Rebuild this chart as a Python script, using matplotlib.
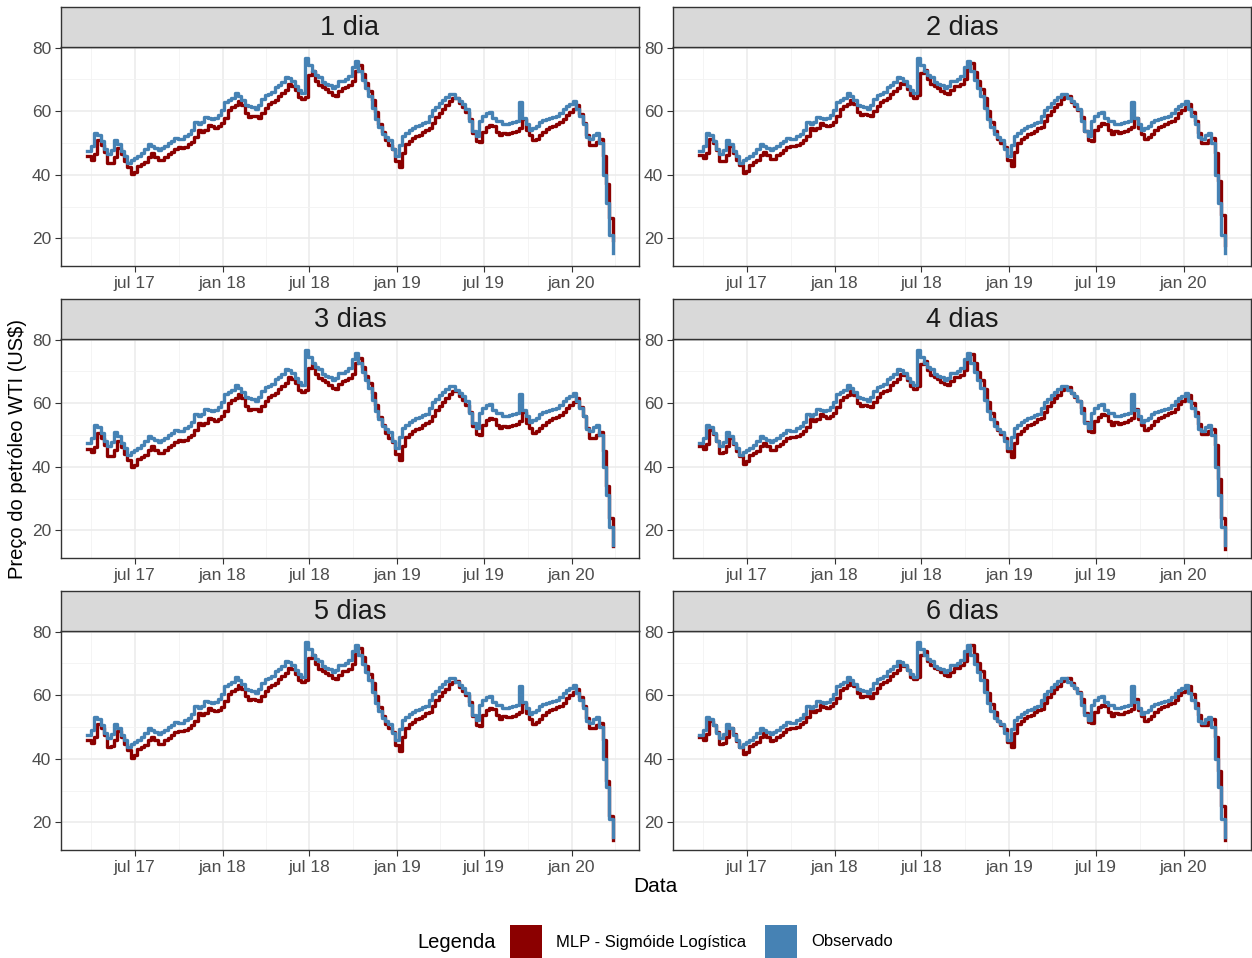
import matplotlib

matplotlib.use("Agg")
import matplotlib.pyplot as plt  # noqa: E402
from matplotlib.patches import Rectangle  # noqa: E402
import pandas as pd  # noqa: E402

# weekly WTI price (US$), starting 2017-03-24
START = "2017-03-24"
OBSERVADO = [
    47.4, 49.0, 53.2, 52.4, 50.5, 48.0, 46.5, 47.8, 51.0, 49.7,
    47.5, 46.0, 43.8, 44.5, 45.4, 46.0, 46.7, 48.0, 49.6, 49.0,
    48.3, 47.9, 48.5, 49.2, 50.0, 50.7, 51.6, 51.2, 51.4, 52.1,
    52.8, 54.0, 56.7, 56.0, 56.5, 58.3, 57.8, 57.4, 57.8, 58.7,
    60.5, 62.8, 63.6, 64.3, 65.6, 64.8, 63.5, 62.0, 61.6, 61.4,
    60.6, 62.0, 63.8, 65.0, 65.5, 66.0, 67.5, 68.4, 69.2, 70.9,
    70.6, 69.6, 67.8, 66.6, 65.8, 76.8, 74.5, 72.6, 71.5, 70.8,
    69.3, 68.7, 68.3, 67.2, 68.0, 69.5, 69.5, 70.0, 71.2, 74.0,
    75.8, 72.5, 69.7, 67.3, 64.8, 61.0, 57.5, 54.9, 52.7, 51.8,
    50.8, 48.0, 46.0, 49.5, 52.3, 53.1, 54.0, 54.8, 55.2, 55.8,
    56.4, 56.7, 58.5, 60.3, 61.4, 62.5, 63.5, 64.5, 65.4, 65.5,
    64.0, 63.2, 62.2, 60.8, 57.0, 53.7, 52.1, 57.0, 58.4, 59.3,
    59.6, 58.0, 57.0, 57.0, 56.0, 56.0, 56.3, 56.6, 57.0, 63.0,
    58.0, 56.0, 54.2, 54.6, 55.5, 56.5, 57.2, 57.6, 58.0, 58.3,
    58.6, 59.3, 60.8, 61.6, 62.4, 63.1, 60.8, 58.6, 56.0, 52.0,
    51.3, 52.5, 53.3, 50.0, 40.0, 31.0, 21.0, 15.5,
]

MLP_1 = [
    45.8, 44.8, 46.5, 50.8, 49.5, 47.2, 43.6, 43.8, 45.6, 48.4,
    46.5, 44.3, 42.5, 40.2, 41.0, 42.8, 43.4, 44.1, 45.6, 46.8,
    45.6, 44.5, 44.6, 45.7, 46.4, 47.3, 48.2, 48.6, 48.5, 48.8,
    49.6, 50.4, 51.8, 54.1, 53.5, 54.2, 55.8, 55.2, 54.7, 55.3,
    56.2, 58.0, 60.3, 61.2, 61.9, 63.1, 61.8, 59.4, 58.2, 58.6,
    58.4, 58.0, 59.5, 61.0, 62.4, 62.9, 63.5, 64.9, 65.8, 66.8,
    68.5, 68.0, 66.6, 64.5, 63.8, 64.5, 71.5, 72.6, 69.6, 68.2,
    67.5, 66.9, 66.0, 65.2, 64.8, 66.2, 67.3, 67.5, 68.2, 69.5,
    72.8, 74.6, 71.8, 69.0, 66.5, 63.6, 59.6, 56.0, 53.4, 50.8,
    49.5, 48.2, 44.2, 42.4, 46.8, 49.6, 50.6, 51.5, 52.2, 52.6,
    53.4, 54.2, 54.6, 56.4, 58.3, 59.5, 60.8, 61.8, 63.2, 64.0,
    64.2, 62.5, 61.2, 59.8, 57.6, 53.2, 50.5, 50.2, 53.6, 55.0,
    55.8, 55.4, 53.6, 52.4, 53.2, 52.8, 53.0, 53.4, 53.8, 54.6,
    57.5, 54.2, 52.4, 50.8, 51.4, 52.4, 53.5, 54.4, 55.0, 55.5,
    56.0, 56.5, 57.4, 58.8, 59.8, 60.8, 61.8, 59.2, 56.4, 52.6,
    49.4, 49.5, 50.4, 51.2, 46.0, 37.0, 26.5, 19.5,
]

MLP_2 = [
    46.2, 45.3, 47.0, 51.2, 50.0, 47.8, 44.2, 44.3, 46.2, 48.9,
    47.0, 44.8, 43.0, 40.6, 41.3, 43.2, 43.9, 44.6, 46.1, 47.3,
    46.1, 45.0, 45.1, 46.2, 46.9, 47.8, 48.7, 49.1, 49.0, 49.3,
    50.1, 50.9, 52.3, 54.6, 54.0, 54.7, 56.3, 55.7, 55.2, 55.8,
    56.7, 58.5, 60.8, 61.7, 62.4, 63.6, 62.3, 59.9, 58.7, 59.1,
    58.9, 58.5, 60.0, 61.5, 62.9, 63.4, 64.0, 65.4, 66.3, 67.3,
    69.0, 68.5, 67.1, 65.0, 64.3, 65.0, 72.0, 73.1, 70.1, 68.7,
    68.0, 67.4, 66.5, 65.7, 65.3, 66.7, 67.8, 68.0, 68.7, 70.0,
    73.3, 75.1, 72.3, 69.5, 67.0, 64.1, 60.1, 56.5, 53.9, 51.3,
    50.0, 48.7, 44.7, 42.9, 47.3, 50.1, 51.1, 52.0, 52.7, 53.1,
    53.9, 54.7, 55.1, 56.9, 58.8, 60.0, 61.3, 62.3, 63.7, 64.5,
    64.7, 63.0, 61.7, 60.3, 58.1, 53.7, 51.0, 50.7, 54.1, 55.5,
    56.3, 55.9, 54.1, 52.9, 53.7, 53.3, 53.5, 53.9, 54.3, 55.1,
    58.0, 54.7, 52.9, 51.3, 51.9, 52.9, 54.0, 54.9, 55.5, 56.0,
    56.5, 57.0, 57.9, 59.3, 60.3, 61.3, 62.3, 59.7, 56.9, 53.1,
    49.9, 50.0, 50.9, 51.7, 47.0, 38.0, 27.5, 18.0,
]

MLP_3 = [
    45.5, 44.5, 46.2, 50.5, 49.2, 46.9, 43.3, 43.5, 45.3, 48.1,
    46.2, 44.0, 42.2, 39.9, 40.7, 42.5, 43.1, 43.8, 45.3, 46.5,
    45.3, 44.2, 44.3, 45.4, 46.1, 47.0, 47.9, 48.3, 48.2, 48.5,
    49.3, 50.1, 51.5, 53.8, 53.2, 53.9, 55.5, 54.9, 54.4, 55.0,
    55.9, 57.7, 60.0, 60.9, 61.6, 62.8, 61.5, 59.1, 57.9, 58.3,
    58.1, 57.7, 59.2, 60.7, 62.1, 62.6, 63.2, 64.6, 65.5, 66.5,
    68.2, 67.7, 66.3, 64.2, 63.5, 64.2, 71.2, 72.3, 69.3, 67.9,
    67.2, 66.6, 65.7, 64.9, 64.5, 65.9, 67.0, 67.2, 67.9, 69.2,
    72.5, 74.3, 71.5, 68.7, 66.2, 63.3, 59.3, 55.7, 53.1, 50.5,
    49.2, 47.9, 43.9, 42.1, 46.5, 49.3, 50.3, 51.2, 51.9, 52.3,
    53.1, 53.9, 54.3, 56.1, 58.0, 59.2, 60.5, 61.5, 62.9, 63.7,
    63.9, 62.2, 60.9, 59.5, 57.3, 52.9, 50.2, 49.9, 53.3, 54.7,
    55.5, 55.1, 53.3, 52.1, 52.9, 52.5, 52.7, 53.1, 53.5, 54.3,
    57.2, 53.9, 52.1, 50.5, 51.1, 52.1, 53.2, 54.1, 54.7, 55.2,
    55.7, 56.2, 57.1, 58.5, 59.5, 60.5, 61.5, 58.9, 56.1, 52.3,
    49.1, 49.2, 50.1, 50.9, 45.0, 34.0, 24.0, 15.0,
]

MLP_4 = [
    46.6, 45.6, 47.3, 51.6, 50.3, 48.0, 44.4, 44.6, 46.4, 49.2,
    47.3, 45.1, 43.3, 41.0, 41.8, 43.6, 44.2, 44.9, 46.4, 47.6,
    46.4, 45.3, 45.4, 46.5, 47.2, 48.1, 49.0, 49.4, 49.3, 49.6,
    50.4, 51.2, 52.6, 54.9, 54.3, 55.0, 56.6, 56.0, 55.5, 56.1,
    57.0, 58.8, 61.1, 62.0, 62.7, 63.9, 62.6, 60.2, 59.0, 59.4,
    59.2, 58.8, 60.3, 61.8, 63.2, 63.7, 64.3, 65.7, 66.6, 67.6,
    69.3, 68.8, 67.4, 65.3, 64.6, 65.3, 72.3, 73.4, 70.4, 69.0,
    68.3, 67.7, 66.8, 66.0, 65.6, 67.0, 68.1, 68.3, 69.0, 70.3,
    73.6, 75.4, 72.6, 69.8, 67.3, 64.4, 60.4, 56.8, 54.2, 51.6,
    50.3, 49.0, 45.0, 43.2, 47.6, 50.4, 51.4, 52.3, 53.0, 53.4,
    54.2, 55.0, 55.4, 57.2, 59.1, 60.3, 61.6, 62.6, 64.0, 64.8,
    65.0, 63.3, 62.0, 60.6, 58.4, 54.0, 51.3, 51.0, 54.4, 55.8,
    56.6, 56.2, 54.4, 53.2, 54.0, 53.6, 53.8, 54.2, 54.6, 55.4,
    58.3, 55.0, 53.2, 51.6, 52.2, 53.2, 54.3, 55.2, 55.8, 56.3,
    56.8, 57.3, 58.2, 59.6, 60.6, 61.6, 62.6, 60.0, 57.2, 53.4,
    50.2, 50.3, 51.2, 52.0, 47.0, 36.0, 24.0, 14.0,
]

MLP_5 = [
    45.9, 45.0, 46.7, 51.0, 49.7, 47.4, 43.8, 44.0, 45.8, 48.6,
    46.7, 44.5, 42.7, 40.4, 41.2, 43.0, 43.6, 44.3, 45.8, 47.0,
    45.8, 44.7, 44.8, 45.9, 46.6, 47.5, 48.4, 48.8, 48.7, 49.0,
    49.8, 50.6, 52.0, 54.3, 53.7, 54.4, 56.0, 55.4, 54.9, 55.5,
    56.4, 58.2, 60.5, 61.4, 62.1, 63.3, 62.0, 59.6, 58.4, 58.8,
    58.6, 58.2, 59.7, 61.2, 62.6, 63.1, 63.7, 65.1, 66.0, 67.0,
    68.7, 68.2, 66.8, 64.7, 64.0, 64.7, 71.7, 72.8, 69.8, 68.4,
    67.7, 67.1, 66.2, 65.4, 65.0, 66.4, 67.5, 67.7, 68.4, 69.7,
    73.0, 74.8, 72.0, 69.2, 66.7, 63.8, 59.8, 56.2, 53.6, 51.0,
    49.7, 48.4, 44.4, 42.6, 47.0, 49.8, 50.8, 51.7, 52.4, 52.8,
    53.6, 54.4, 54.8, 56.6, 58.5, 59.7, 61.0, 62.0, 63.4, 64.2,
    64.4, 62.7, 61.4, 60.0, 57.8, 53.4, 50.7, 50.4, 53.8, 55.2,
    56.0, 55.6, 53.8, 52.6, 53.4, 53.0, 53.2, 53.6, 54.0, 54.8,
    57.7, 54.4, 52.6, 51.0, 51.6, 52.6, 53.7, 54.6, 55.2, 55.7,
    56.2, 56.7, 57.6, 59.0, 60.0, 61.0, 62.0, 59.4, 56.6, 52.8,
    49.6, 49.7, 50.6, 51.4, 46.0, 33.0, 22.0, 14.5,
]

MLP_6 = [
    47.0, 46.0, 47.7, 52.0, 50.7, 48.4, 44.8, 45.0, 46.8, 49.6,
    47.7, 45.5, 43.7, 41.4, 42.2, 44.0, 44.6, 45.3, 46.8, 48.0,
    46.8, 45.7, 45.8, 46.9, 47.6, 48.5, 49.4, 49.8, 49.7, 50.0,
    50.8, 51.6, 53.0, 55.3, 54.7, 55.4, 57.0, 56.4, 55.9, 56.5,
    57.4, 59.2, 61.5, 62.4, 63.1, 64.3, 63.0, 60.6, 59.4, 59.8,
    59.6, 59.2, 60.7, 62.2, 63.6, 64.1, 64.7, 66.1, 67.0, 68.0,
    69.7, 69.2, 67.8, 65.7, 65.0, 65.7, 72.7, 73.8, 70.8, 69.4,
    68.7, 68.1, 67.2, 66.4, 66.0, 67.4, 68.5, 68.7, 69.4, 70.7,
    74.0, 75.8, 73.0, 70.2, 67.7, 64.8, 60.8, 57.2, 54.6, 52.0,
    50.7, 49.4, 45.4, 43.6, 48.0, 50.8, 51.8, 52.7, 53.4, 53.8,
    54.6, 55.4, 55.8, 57.6, 59.5, 60.7, 62.0, 63.0, 64.4, 65.2,
    65.4, 63.7, 62.4, 61.0, 58.8, 54.4, 51.7, 51.4, 54.8, 56.2,
    57.0, 56.6, 54.8, 53.6, 54.4, 54.0, 54.2, 54.6, 55.0, 55.8,
    58.7, 55.4, 53.6, 52.0, 52.6, 53.6, 54.7, 55.6, 56.2, 56.7,
    57.2, 57.7, 58.6, 60.0, 61.0, 62.0, 63.0, 60.4, 57.6, 53.8,
    50.6, 50.7, 51.6, 52.4, 47.0, 36.0, 25.0, 14.5,
]

PANELS = ["1 dia", "2 dias", "3 dias", "4 dias", "5 dias", "6 dias"]
MLP = [MLP_1, MLP_2, MLP_3, MLP_4, MLP_5, MLP_6]

X_TICKS = ["2017-07-01", "2018-01-01", "2018-07-01", "2019-01-01",
           "2019-07-01", "2020-01-01"]
X_LABELS = ["jul 17", "jan 18", "jul 18", "jan 19", "jul 19", "jan 20"]
X_MINOR = ["2017-04-01", "2017-10-01", "2018-04-01", "2018-10-01",
           "2019-04-01", "2019-10-01", "2020-04-01"]
Y_TICKS = [20, 40, 60, 80]
Y_MINOR = [30, 50, 70]

RED = "#8B0000"
BLUE = "#4682B4"
INK = "#4D4D4D"
BORDER = "#333333"

plt.rcParams["font.family"] = ["Liberation Sans", "DejaVu Sans"]

W, H = 1252, 958
fig = plt.figure(figsize=(W / 100, H / 100), dpi=100)

dates = pd.date_range(START, periods=len(OBSERVADO), freq="7D")
pad = (dates[-1] - dates[0]) * 0.05
xlim = (dates[0] - pad, dates[-1] + pad)

col_left = [61, 673]
row_top = [47, 339, 631]
pw, ph, sh = 578, 219, 40

for k, name in enumerate(PANELS):
    r, c = divmod(k, 2)
    left = col_left[c] / W
    bottom = 1 - (row_top[r] + ph) / H
    ax = fig.add_axes([left, bottom, pw / W, ph / H])

    ax.plot(dates, MLP[k], color=RED, lw=2.4, drawstyle="steps-post", zorder=3)
    ax.plot(dates, OBSERVADO, color=BLUE, lw=2.4, drawstyle="steps-post",
            zorder=4)

    ax.set_xlim(xlim)
    ax.set_ylim(11.3, 80.2)
    ax.set_xticks(pd.to_datetime(X_TICKS))
    ax.set_xticklabels(X_LABELS)
    ax.set_xticks(pd.to_datetime(X_MINOR), minor=True)
    ax.set_yticks(Y_TICKS)
    ax.set_yticks(Y_MINOR, minor=True)
    ax.grid(which="major", color="#EBEBEB", lw=1.1, zorder=0)
    ax.grid(which="minor", color="#F3F3F3", lw=0.6, zorder=0)
    ax.set_axisbelow(True)
    ax.tick_params(which="major", length=4, width=0.8, color=BORDER,
                   labelcolor=INK, labelsize=12.5, pad=3)
    ax.tick_params(which="minor", length=0)
    for s in ax.spines.values():
        s.set_color(BORDER)
        s.set_linewidth(1.0)

    # facet strip
    sax = fig.add_axes([left, 1 - row_top[r] / H, pw / W, sh / H])
    sax.set_facecolor("#D9D9D9")
    sax.set_xticks([])
    sax.set_yticks([])
    for s in sax.spines.values():
        s.set_color(BORDER)
        s.set_linewidth(1.0)
    sax.text(0.5, 0.47, name, ha="center", va="center", fontsize=19.5,
             color="#1A1A1A", transform=sax.transAxes)

fig.text(18 / W, 1 - 449 / H, "Preço do petróleo WTI (US$)", rotation=90,
         ha="center", va="center", fontsize=14.5)
fig.text(655 / W, 1 - 887 / H, "Data", ha="center", va="center",
         fontsize=15)

# legend along the bottom
ly = 1 - 942 / H
fig.text(417 / W, ly, "Legenda", ha="left", va="center", fontsize=14.5)
for x0, col, lab in [(510, RED, "MLP - Sigmóide Logística"),
                     (765, BLUE, "Observado")]:
    fig.add_artist(Rectangle((x0 / W, 1 - 958 / H), 32 / W, 33 / H,
                             transform=fig.transFigure, facecolor=col,
                             edgecolor="none"))
    fig.text((x0 + 46) / W, ly, lab, ha="left", va="center", fontsize=12)

fig.savefig("out.png", dpi=100)
